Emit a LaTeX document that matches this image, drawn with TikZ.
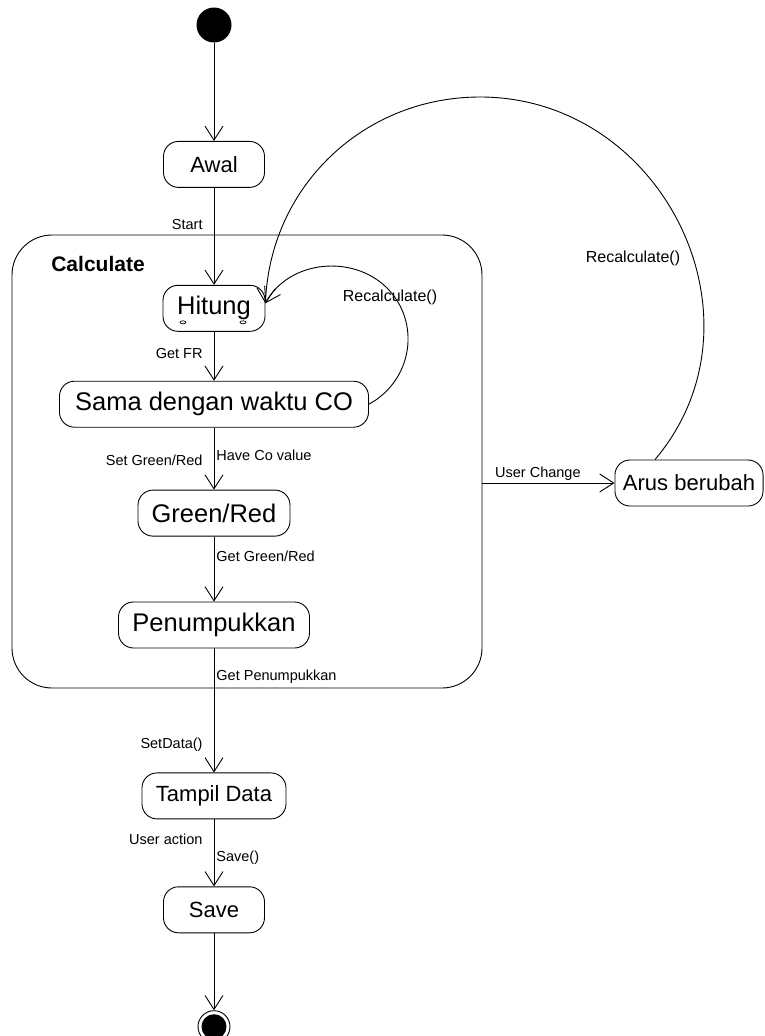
\documentclass[tikz,border=0pt]{standalone}
\usepackage{fontspec}
\setmainfont{Liberation Sans}
\usepackage{tikz}
\usetikzlibrary{arrows.meta,positioning,shapes.geometric}

\begin{document}
\begin{tikzpicture}[
    x=1pt, y=1pt,
    line width=0.9pt,
    state/.style={rectangle, draw, rounded corners=15pt, minimum height=46pt, inner xsep=8pt, font=\fontsize{25.5}{30}\selectfont},
    smallstate/.style={state, font=\fontsize{22}{26}\selectfont},
    lbl/.style={font=\fontsize{14.5}{17}\selectfont, inner sep=2pt},
    recalc/.style={font=\fontsize{16}{19}\selectfont, inner sep=0pt},
    arrow/.style={-{Straight Barb[length=14pt, width=18pt]}}
]
\useasboundingbox (0,0) rectangle (764,-1036);

% Composite state
\node[draw, rounded corners=40pt, minimum width=470pt, minimum height=453pt] (calc) at (247,-461.5) {};
\node[anchor=west, font=\bfseries\fontsize{21}{25}\selectfont] (calclabel) at ([xshift=36pt, yshift=-29pt]calc.north west) {Calculate};

% Nodes
\node[circle, fill, minimum size=35pt, inner sep=0pt] (start) at (214,-25) {};

\node[smallstate, minimum width=101pt, below=98pt of start] (awal) {Awal};

\node[state, minimum width=102pt, below=97pt of awal] (hitung) {Hitung};

\node[state, minimum width=309pt, below=49pt of hitung] (sama) {Sama dengan waktu CO};

\node[state, minimum width=152pt, below=62pt of sama] (greenred) {Green/Red};

\node[state, minimum width=191pt, below=65pt of greenred] (tumpuk) {Penumpukkan};

\node[smallstate, minimum width=144pt, below=124pt of tumpuk] (tampil) {Tampil Data};

\node[smallstate, minimum width=101pt, below=67pt of tampil] (save) {Save};

\node[circle, draw, minimum size=32pt, inner sep=0pt, below=77pt of save] (end) {};
\fill (end.center) circle (12.5pt);

\node[smallstate, minimum width=148pt] (arus) at (689,-483) {Arus berubah};

% small marks under Hitung
\draw[line width=0.7pt] ([shift={(-31pt,-14pt)}]hitung.center) ellipse (3pt and 1.5pt);
\draw[line width=0.7pt] ([shift={(29pt,-14pt)}]hitung.center) ellipse (3pt and 1.5pt);

% Arrows
\draw[arrow] (start) -- (awal);
\draw[arrow] (awal) -- node[lbl, left=9pt, pos=0.38] {Start} (hitung);
\draw[arrow] (hitung) -- node[lbl, left=9pt, pos=0.45] {Get FR} (sama);
\draw[arrow] (sama) -- node[lbl, left=9pt, pos=0.53] {Set Green/Red}
                       node[lbl, right, pos=0.44] {Have Co value} (greenred);
\draw[arrow] (greenred) -- node[lbl, right, pos=0.31] {Get Green/Red} (tumpuk);
\draw[arrow] (tumpuk) -- node[lbl, right, pos=0.23] {Get Penumpukkan}
                         node[lbl, left=9pt, pos=0.78] {SetData()} (tampil);
\draw[arrow] (tampil) -- node[lbl, left=9pt, pos=0.3] {User action}
                         node[lbl, right, pos=0.58] {Save()} (save);
\draw[arrow] (save) -- (end);
\draw[arrow] (calc.east |- arus.west) -- node[lbl, above, pos=0.42] {User Change} (arus);

% Recalculate loops
\draw[arrow] (sama.east) .. controls (413,-380) and (421,-322) .. (387,-288)
    .. controls (353,-254) and (289,-260) .. ([yshift=5pt]hitung.east);
\node[recalc] (recalc1) at (390,-297) {Recalculate()};

\draw[arrow] ([xshift=-34pt]arus.north) .. controls (773,-320) and (663,-97) .. (480,-97)
    .. controls (364,-97) and (270,-186) .. ([yshift=5pt]hitung.east);
\node[recalc] (recalc2) at (633,-258) {Recalculate()};

\end{tikzpicture}
\end{document}
